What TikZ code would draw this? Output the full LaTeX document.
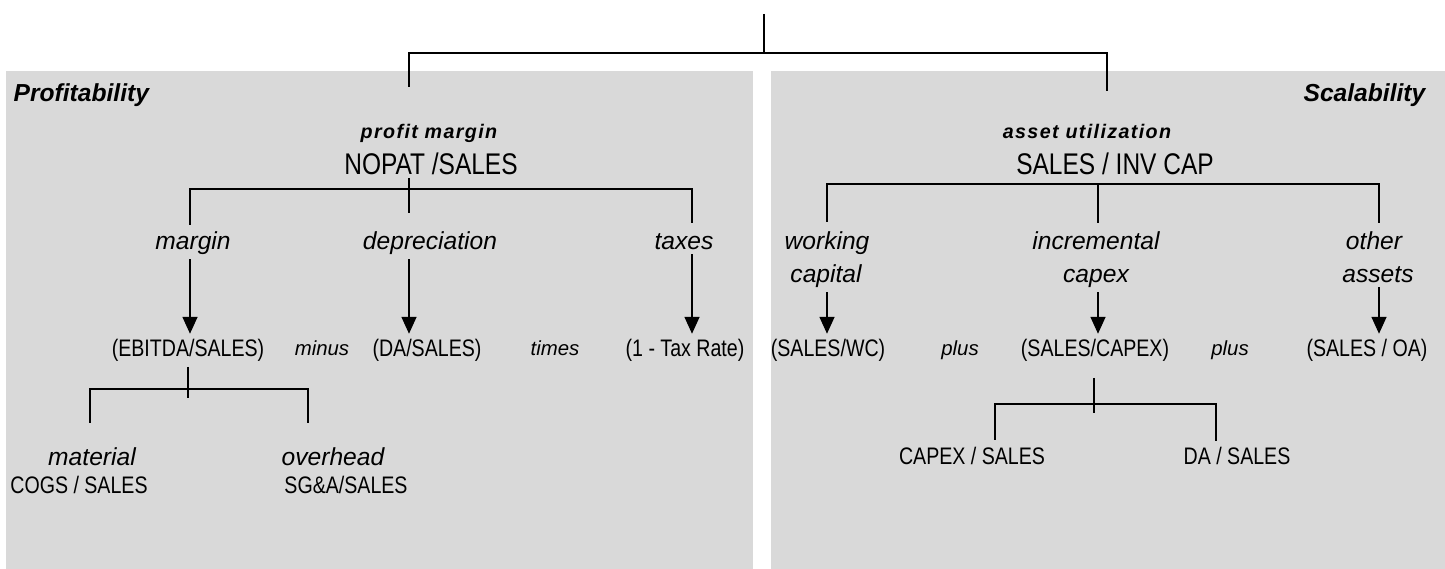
\documentclass[tikz,border=0pt]{standalone}
\usepackage{fontspec}
\setmainfont{Liberation Sans}
\newfontfamily\narrowfont{Liberation Sans}[FakeStretch=0.82]
\newfontfamily\spacedfont{Liberation Sans}[LetterSpace=7]
\usetikzlibrary{arrows.meta}

\begin{document}
\begin{tikzpicture}[x=0.1mm, y=-0.1mm,
    panel/.style={fill=black!15},
    link/.style={line width=0.6pt},
    bar/.style={line width=0.8pt},
    arr/.style={line width=0.3pt, -{Triangle[length=4.8pt, width=4.3pt]}},
    head/.style={font=\fontsize{7}{8}\selectfont\bfseries\itshape, inner sep=0pt, anchor=base},
    title/.style={font=\spacedfont\bfseries\itshape\fontsize{5.6}{6.5}\selectfont, inner sep=0pt, anchor=base},
    bigratio/.style={font=\narrowfont\fontsize{8.5}{9.5}\selectfont, inner sep=1pt, anchor=base},
    ratio/.style={font=\narrowfont\fontsize{6.8}{8}\selectfont, inner sep=1.5pt, anchor=base},
    part/.style={font=\itshape\fontsize{7}{8}\selectfont, inner sep=1pt, anchor=base},
    op/.style={font=\itshape\fontsize{5.8}{7}\selectfont, inner sep=0pt, anchor=base}]
    \useasboundingbox (0,0) rectangle (1445,569);
    \fill[panel] (6,71) rectangle (753,569);
    \fill[panel] (771,71) rectangle (1445,569);

    \coordinate (root) at (764,14);
    \coordinate (rootJ) at (764,53);
    \coordinate (profJ) at (409,53);
    \coordinate (scalJ) at (1107,53);
    \coordinate (profE) at (409,87);
    \coordinate (scalE) at (1107,91);
    \draw[link] (root) -- (rootJ);
    \draw[link] (profE) -- (profJ) -- (scalJ) -- (scalE);

    \node[head, anchor=base west] (prof) at (13,102) {Profitability};
    \node[head, anchor=base east] (scal) at (1426,102) {Scalability};

    \node[title] (pm) at (429,139) {profit margin};
    \node[bigratio] (nopat) at (431,175) {NOPAT /SALES};
    \coordinate (pmS) at (409,178);
    \coordinate (pmE) at (409,213);
    \coordinate (pmL) at (190,189);
    \coordinate (pmR) at (692,189);
    \coordinate (pmLE) at (190,225);
    \coordinate (pmRE) at (692,223);
    \draw[bar] (pmLE) -- (pmL) -- (pmR) -- (pmRE);
    \draw[bar] (pmS) -- (pmE);

    \node[part] (margin) at (193,250) {margin};
    \node[part] (dep) at (430,250) {depreciation};
    \node[part] (tax) at (684,250) {taxes};

    \node[ratio] (ebitda) at (188,357) {(EBITDA/SALES)};
    \node[op] (minus) at (322,356) {minus};
    \node[ratio] (da) at (427,357) {(DA/SALES)};
    \node[op] (times) at (555,356) {times};
    \node[ratio] (taxrate) at (685,357) {(1 - Tax Rate)};

    \draw[arr] (margin.south -| pmL) -- (ebitda.north -| pmL);
    \draw[arr] (dep.south -| pmE) -- (da.north -| pmE);
    \draw[arr] (tax.south -| pmR) -- (taxrate.north -| pmR);

    \coordinate (ebS) at (188,367);
    \coordinate (ebE) at (188,398);
    \coordinate (ebL) at (90,389);
    \coordinate (ebR) at (308,389);
    \coordinate (ebLE) at (90,423);
    \coordinate (ebRE) at (308,423);
    \draw[bar] (ebS) -- (ebE);
    \draw[bar] (ebLE) -- (ebL) -- (ebR) -- (ebRE);

    \node[part] (material) at (92,466) {material};
    \node[ratio] (cogs) at (79,494) {COGS / SALES};
    \node[part] (overhead) at (333,466) {overhead};
    \node[ratio] (sga) at (346,494) {SG\&A/SALES};

    \node[title] (au) at (1087,139) {asset utilization};
    \node[bigratio] (invcap) at (1115,175) {SALES / INV CAP};
    \coordinate (auL) at (827,184);
    \coordinate (auM) at (1098,184);
    \coordinate (auR) at (1379,184);
    \coordinate (auLE) at (827,222);
    \coordinate (auME) at (1098,223);
    \coordinate (auRE) at (1379,223);
    \draw[bar] (auLE) -- (auL) -- (auR) -- (auRE);
    \draw[bar] (auM) -- (auME);

    \node[part] (work) at (827,250) {working};
    \node[part] (wcap) at (826,283) {capital};
    \node[part] (incr) at (1096,250) {incremental};
    \node[part] (capex) at (1096,283) {capex};
    \node[part] (other) at (1374,250) {other};
    \node[part] (assets) at (1378,283) {assets};

    \node[ratio] (wc) at (828,357) {(SALES/WC)};
    \node[op] (plusA) at (960,356) {plus};
    \node[ratio] (sc) at (1095,357) {(SALES/CAPEX)};
    \node[op] (plusB) at (1230,356) {plus};
    \node[ratio] (oa) at (1367,357) {(SALES / OA)};

    \draw[arr] (wcap.south -| auL) -- (wc.north -| auL);
    \draw[arr] (capex.south -| auM) -- (sc.north -| auM);
    \draw[arr] (assets.south -| auR) -- (oa.north -| auR);

    \coordinate (cxS) at (1094,378);
    \coordinate (cxE) at (1094,413);
    \coordinate (cxL) at (995,404);
    \coordinate (cxR) at (1216,404);
    \coordinate (cxLE) at (995,440);
    \coordinate (cxRE) at (1216,441);
    \draw[bar] (cxS) -- (cxE);
    \draw[bar] (cxLE) -- (cxL) -- (cxR) -- (cxRE);

    \node[ratio] (capexs) at (972,465) {CAPEX / SALES};
    \node[ratio] (das) at (1237,465) {DA / SALES};
\end{tikzpicture}
\end{document}
